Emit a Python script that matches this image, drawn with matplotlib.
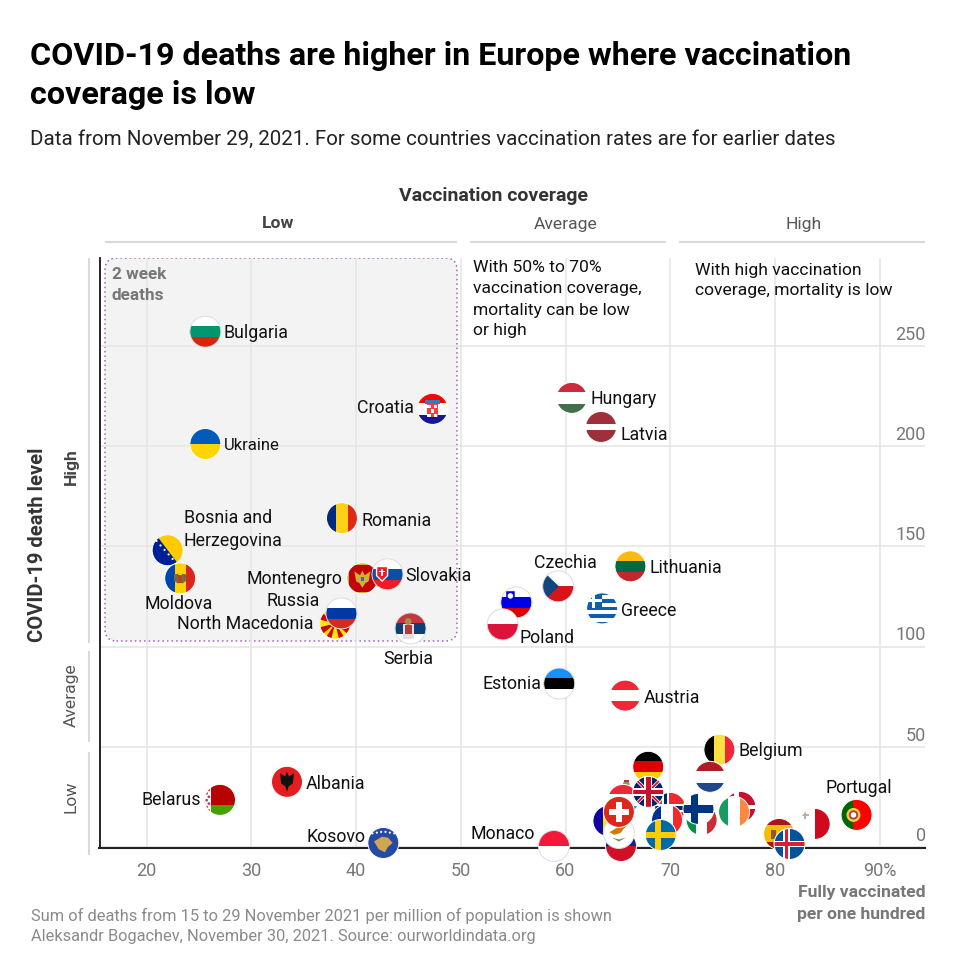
import matplotlib
matplotlib.use('Agg')
import matplotlib.pyplot as plt
from matplotlib.patches import Circle, Rectangle, Polygon, FancyBboxPatch
from matplotlib.lines import Line2D
from matplotlib.transforms import Affine2D, ScaledTranslation

plt.rcParams['font.family'] = ['Roboto', 'DejaVu Sans']

# data, later entries are drawn on top
countries = ['Bulgaria', 'Ukraine', 'Romania', 'Bosnia and\nHerzegovina', 'Moldova', 'Montenegro',
             'Slovakia', 'North Macedonia', 'Russia', 'Serbia', 'Croatia', 'Hungary', 'Latvia',
             'Slovenia', 'Poland', 'Czechia', 'Lithuania', 'Greece', 'Estonia', 'Austria',
             'Belgium', 'Netherlands', 'Denmark', 'Ireland', 'Italy', 'Norway', 'France', 'Finland',
             'Germany', 'San Marino', 'Luxembourg', 'United Kingdom', 'Sweden', 'Andorra',
             'Liechtenstein', 'Cyprus', 'Switzerland', 'Spain', 'Iceland', 'Malta', 'Portugal',
             'Monaco', 'Albania', 'Belarus', 'Kosovo']
vaccinated = [25.6, 25.6, 38.65, 22.0, 23.2, 40.6,
              43.0, 38.0, 38.6, 45.2, 47.3, 60.6, 63.4,
              55.3, 54.0, 59.3, 66.2, 63.5, 59.4, 65.7,
              74.7, 73.8, 76.7, 76.1, 73.0, 70.0, 69.7, 72.7,
              67.9, 65.8, 65.5, 67.9, 69.1, 64.1,
              65.3, 65.1, 65.1, 80.4, 81.4, 83.8, 87.8,
              58.9, 33.4, 27.0, 42.6]
deaths = [257, 201, 164, 148, 134, 134,
          136, 111.5, 116.5, 109, 218.5, 224, 209.5,
          122, 111, 130, 140, 119, 81.5, 75.5,
          48.5, 35, 20, 17.5, 13.5, 19.5, 13.5, 19,
          40, 27, 23.5, 27.5, 6, 13,
          0.5, 7, 17.5, 6.5, 1.5, 11.5, 16,
          0.5, 32.5, 23.5, 2]

x_ticks = [20, 30, 40, 50, 60, 70, 80, 90]
x_tick_labels = ['20', '30', '40', '50', '60', '70', '80', '90%']
y_ticks = [0, 50, 100, 150, 200, 250]

# label offset from the flag centre in pixels: dx, dy (up), alignment
label_offsets = {
    'Bulgaria': (18, 0, 'left'), 'Ukraine': (18.5, -0.5, 'left'), 'Romania': (20, -1, 'left'),
    'Bosnia and\nHerzegovina': (16, 22, 'left'), 'Moldova': (-2, -24, 'center'),
    'Montenegro': (-20, 1, 'right'), 'Slovakia': (18, 0, 'left'), 'Russia': (-22, 14, 'right'),
    'North Macedonia': (-21.7, 1, 'right'), 'Serbia': (-2, -29, 'center'), 'Croatia': (-19, 2, 'right'),
    'Hungary': (19, 0, 'left'), 'Latvia': (19.5, -7, 'left'), 'Czechia': (7, 25, 'center'),
    'Lithuania': (19, 0, 'left'), 'Greece': (19, -1, 'left'), 'Poland': (17, -12, 'left'),
    'Estonia': (-18, 1, 'right'), 'Austria': (19, -1, 'left'), 'Belgium': (19, 0, 'left'),
    'Portugal': (2, 28, 'center'), 'Albania': (19, -1, 'left'), 'Belarus': (-19, 1, 'right'),
    'Kosovo': (-18, 7, 'right'), 'Monaco': (-19, 13, 'right'),
}
# flags with white at the rim get a thin grey outline
ringed = ['Bulgaria', 'Russia', 'Serbia', 'Slovakia', 'Slovenia', 'Poland', 'Czechia', 'Estonia', 'Monaco', 'Cyprus']

W, H = 960, 976
R = 15.5


def fx(x):
    return x / W


def fy(y):
    return 1 - y / H


def h(*cols):
    n = len(cols)
    return [('r', -1.1, 1.1 - 2.2 * (i + 1) / n, 2.2, 2.2 / n, c) for i, c in enumerate(cols)]


def v(*cols):
    n = len(cols)
    return [('r', -1.1 + 2.2 * i / n, -1.1, 2.2 / n, 2.2, c) for i, c in enumerate(cols)]


def cross(cx, cy, w, c):
    return [('r', cx - w / 2, -1.1, w, 2.2, c), ('r', -1.1, cy - w / 2, 2.2, w, c)]


def bg(c):
    return [('r', -1.1, -1.1, 2.2, 2.2, c)]


greece = h(*['#0d5eaf', 'white'] * 4 + ['#0d5eaf'])
greece += [('r', -1.1, 0, 1.1, 1.1, '#0d5eaf')] + [('r', -0.66, 0, 0.2, 1.1, 'white'), ('r', -1.1, 0.42, 1.1, 0.2, 'white')]

uk = bg('#012169')
uk += [('p', [(-1.1, 0.95), (-0.95, 1.1), (1.1, -0.95), (0.95, -1.1)], 'white'),
       ('p', [(1.1, 0.95), (0.95, 1.1), (-1.1, -0.95), (-0.95, -1.1)], 'white')]
uk += [('p', [(-1.1, 1.02), (-1.02, 1.1), (1.1, -1.02), (1.02, -1.1)], '#c8102e'),
       ('p', [(1.1, 1.02), (1.02, 1.1), (-1.1, -1.02), (-1.02, -1.1)], '#c8102e')]
uk += cross(0, 0, 0.55, 'white') + cross(0, 0, 0.3, '#c8102e')

stars = [('c', -0.72 + 0.26 * i, 0.6 - 0.29 * i, 0.07, 'white') for i in range(6)]
rays = [((1.2, 0.3), (1.2, -0.3)), ((-1.2, 0.3), (-1.2, -0.3)), ((0.3, 1.2), (-0.3, 1.2)), ((0.3, -1.2), (-0.3, -1.2)),
        ((1.2, 1.0), (0.8, 1.2)), ((-1.2, 1.0), (-0.8, 1.2)), ((1.2, -1.0), (0.8, -1.2)), ((-1.2, -1.0), (-0.8, -1.2))]
macedonia = bg('#d20000') + [('p', [(0, 0), a, b], '#ffe600') for a, b in rays] + [('c', 0, 0, 0.3, '#d20000'), ('c', 0, 0, 0.22, '#ffe600')]

belarus_band = [('r', -1.1, -1.1, 0.52, 2.2, 'white')]
belarus_band += [('c', -0.86 + 0.14 * (i % 2), -0.9 + 0.22 * i, 0.085, '#c8313e') for i in range(9)]

flags = {
    'Bulgaria': h('white', '#00966e', '#d62612'),
    'Ukraine': h('#005bbb', '#ffd500'),
    'Romania': v('#002b7f', '#fcd116', '#de2a14'),
    'Bosnia and\nHerzegovina': bg('#001f96') + [('p', [(-0.7, 0.95), (-0.7, 1.1), (1.1, 1.1), (1.1, -0.95), (0.72, -0.95)], '#fecb00')] + stars,
    'Moldova': v('#0046ae', '#ffd200', '#d8261c') + [('p', [(-0.4, 0.25), (-0.12, 0.3), (-0.12, -0.35), (-0.4, -0.15)], '#7a6a3a'), ('p', [(0.4, 0.25), (0.12, 0.3), (0.12, -0.35), (0.4, -0.15)], '#7a6a3a'), ('r', -0.12, -0.28, 0.24, 0.5, '#b5402a')],
    'Montenegro': bg('#d3ae3b') + [('r', -0.86, -0.86, 1.72, 1.72, '#c40308'), ('p', [(-0.52, 0.45), (-0.15, 0.2), (0, 0.5), (0.15, 0.2), (0.52, 0.45), (0.4, -0.2), (0.2, -0.3), (0, -0.6), (-0.2, -0.3), (-0.4, -0.2)], '#d3ae3b'), ('r', -0.12, -0.2, 0.24, 0.28, '#3b6ea8')],
    'Slovakia': h('white', '#0b4ea2', '#ee1c25') + [('p', [(-0.75, 0.55), (0.05, 0.55), (0.05, -0.1), (-0.35, -0.5), (-0.75, -0.1)], 'white'), ('p', [(-0.66, 0.46), (-0.04, 0.46), (-0.04, -0.08), (-0.35, -0.38), (-0.66, -0.08)], '#ee1c25'), ('r', -0.4, -0.1, 0.1, 0.46, 'white'), ('r', -0.52, 0.15, 0.34, 0.08, 'white')],
    'North Macedonia': macedonia,
    'Russia': h('white', '#0039a6', '#d52b1e'),
    'Serbia': h('#c6363c', '#0c4076', 'white') + [('r', -0.5, -0.7, 0.7, 1.0, '#e0e0e0'), ('r', -0.38, -0.35, 0.46, 0.55, '#b03a3a'), ('c', -0.15, 0.45, 0.22, '#a8894a')],
    'Croatia': h('#ff0000', 'white', '#171796') + [('r', -0.33, -0.55, 0.66, 0.85, '#f04040'), ('r', -0.33, -0.55, 0.2, 0.2, 'white'), ('r', 0.1, -0.55, 0.2, 0.2, 'white'), ('r', -0.12, -0.25, 0.22, 0.25, 'white'), ('r', -0.33, 0.05, 0.2, 0.2, 'white'), ('r', 0.1, 0.05, 0.2, 0.2, 'white'), ('r', -0.5, 0.3, 1.0, 0.3, '#3a7ab5')],
    'Hungary': h('#cd2a3e', 'white', '#436f4d'),
    'Latvia': h('#9e3039', '#9e3039', 'white', '#9e3039', '#9e3039'),
    'Slovenia': h('white', '#0000e6', '#d90000') + [('p', [(-0.65, 0.72), (-0.1, 0.72), (-0.1, 0.3), (-0.38, 0.05), (-0.65, 0.3)], '#0000e6'), ('c', -0.38, 0.42, 0.18, 'white')],
    'Poland': h('white', '#dc143c'),
    'Czechia': h('white', '#d7141a') + [('p', [(-1.1, 1.1), (0.05, 0), (-1.1, -1.1)], '#11457e')],
    'Lithuania': h('#fdb913', '#006a44', '#c1272d'),
    'Greece': greece,
    'Estonia': h('#1291ff', 'black', 'white'),
    'Austria': h('#ed2939', 'white', '#ed2939'),
    'Belgium': v('black', '#fae042', '#ed2939'),
    'Netherlands': h('#ae1c28', 'white', '#21468b'),
    'Denmark': bg('#c8102e') + cross(-0.25, 0, 0.3, 'white'),
    'Ireland': v('#169b62', 'white', '#ff883e'),
    'Italy': v('#009246', 'white', '#ce2b37'),
    'Norway': bg('#ef2b2d') + cross(-0.3, 0, 0.5, 'white') + cross(-0.3, 0, 0.24, '#002868'),
    'France': v('#002f8f', 'white', '#ef2b2d'),
    'Finland': bg('white') + cross(-0.25, 0, 0.5, '#003580'),
    'Germany': h('black', '#dd0000', '#ffce00'),
    'San Marino': h('white', '#5eb6e4') + [('c', 0, 0.55, 0.22, '#8a9a5a'), ('r', -0.15, 0.7, 0.3, 0.14, '#b03a3a')],
    'Luxembourg': h('#ed2939', 'white', '#00a1de'),
    'United Kingdom': uk,
    'Sweden': bg('#006aa7') + cross(-0.2, 0, 0.38, '#fecc00'),
    'Andorra': v('#10069f', '#fedf00', '#d50032'),
    'Liechtenstein': h('#002b7f', '#ce1126'),
    'Cyprus': bg('white') + [('p', [(-0.6, 0.05), (-0.2, 0.3), (0.15, 0.35), (0.65, 0.6), (0.3, 0.25), (0.1, 0), (-0.3, -0.12)], '#d57800'), ('p', [(-0.45, -0.3), (0, -0.55), (0.45, -0.3), (0, -0.42)], '#6e8a4f')],
    'Switzerland': bg('#da291c') + [('r', -0.2, -0.65, 0.4, 1.3, 'white'), ('r', -0.65, -0.2, 1.3, 0.4, 'white')],
    'Spain': h('#aa151b', '#f1bf00', '#f1bf00', '#aa151b') + [('r', -0.55, -0.3, 0.35, 0.55, '#8a5a2a')],
    'Iceland': bg('#02529c') + cross(-0.2, 0, 0.44, 'white') + cross(-0.2, 0, 0.22, '#dc1e35'),
    'Malta': [('r', -1.1, -1.1, 1.1, 2.2, 'white'), ('r', 0, -1.1, 1.1, 2.2, '#cf0a1e'), ('r', -0.72, 0.32, 0.16, 0.52, '#b8aea0'), ('r', -0.9, 0.5, 0.52, 0.16, '#b8aea0')],
    'Portugal': [('r', -1.1, -1.1, 0.9, 2.2, '#006600'), ('r', -0.2, -1.1, 1.3, 2.2, '#ff0000'), ('c', -0.2, 0, 0.45, '#e8d44a'), ('c', -0.2, 0, 0.3, '#c8352a'), ('c', -0.2, 0, 0.18, 'white')],
    'Monaco': h('#f4183a', 'white'),
    'Albania': bg('#e41e20') + [('p', [(-0.45, 0.55), (-0.12, 0.35), (0, 0.65), (0.12, 0.35), (0.45, 0.55), (0.38, -0.1), (0.1, -0.3), (0, -0.65), (-0.1, -0.3), (-0.38, -0.1)], '#111111')],
    'Belarus': [('r', -1.1, -0.33, 2.2, 1.43, '#b80000'), ('r', -1.1, -1.1, 2.2, 0.77, '#45a000')] + belarus_band,
    'Kosovo': bg('#244aa5') + [('p', [(-0.6, 0.1), (-0.1, 0.4), (0.3, 0.35), (0.6, 0.0), (0.3, -0.25), (0.1, -0.6), (-0.3, -0.4)], '#d0a650')] + [('c', -0.7 + 0.28 * i, 0.62 + 0.12 * (1 - abs(i - 2.5) / 2.5), 0.07, 'white') for i in range(6)],
}


def draw_flag(ax, name, x, y):
    t = Affine2D().scale(R) + ScaledTranslation(x, y, ax.transData)
    clip = Circle((0, 0), 1, transform=t)
    for s in flags[name]:
        if s[0] == 'r':
            p = Rectangle((s[1], s[2]), s[3], s[4], fc=s[5], ec='none')
        elif s[0] == 'p':
            p = Polygon(s[1], closed=True, fc=s[2], ec='none')
        else:
            p = Circle((s[1], s[2]), s[3], fc=s[4], ec='none')
        p.set_transform(t)
        p.set_clip_path(clip)
        p.set_zorder(5)
        ax.add_patch(p)
    edge = '#dddddd' if name in ringed else 'white'
    ring = Circle((0, 0), 1, transform=t, fc='none', ec=edge, lw=0.7, zorder=5, clip_on=False)
    ax.add_patch(ring)


fig = plt.figure(figsize=(W / 100, H / 100), dpi=100)
ax_left, ax_right, ax_top, ax_bottom = 99.5, 925, 258, 848
ax = fig.add_axes([fx(ax_left), fy(ax_bottom), (ax_right - ax_left) / W, (ax_bottom - ax_top) / H])
px_x = 10.47
px_y = 2.005
ax.set_xlim(20 + (ax_left - 146.7) / px_x, 20 + (ax_right - 146.7) / px_x)
ax.set_ylim((847 - ax_bottom) / px_y, (847 - ax_top) / px_y)

for s in ['top', 'right']:
    ax.spines[s].set_visible(False)
ax.spines['left'].set_color('black')
ax.spines['left'].set_linewidth(1.2)
ax.spines['bottom'].set_color('#222222')
ax.spines['bottom'].set_linewidth(1.5)

ax.set_axisbelow(True)
ax.grid(True, color='#e6e6e6', lw=1.2, zorder=1)
ax.set_xticks(x_ticks)
ax.set_xticklabels(x_tick_labels)
ax.set_yticks(y_ticks)
ax.yaxis.tick_right()
ax.tick_params(axis='x', length=0, pad=10, labelsize=13, labelcolor='#777777')
ax.tick_params(axis='y', length=0, pad=0, labelsize=13, labelcolor='#777777', direction='in')
for lab in ax.get_yticklabels():
    lab.set_ha('right')
    lab.set_va('bottom')
    lab.set_transform(lab.get_transform() + Affine2D().translate(1, 2))

# the highlighted low coverage / high mortality box
bx0 = 20 + (105 - 146.7) / px_x
bx1 = 20 + (457 - 146.7) / px_x
by0 = (847 - 641) / px_y
by1 = (847 - 258) / px_y
box = FancyBboxPatch((bx0, by0), bx1 - bx0, by1 - by0, boxstyle='round,pad=0,rounding_size=1.1',
                     mutation_aspect=px_x / px_y, fc='#f3f3f3', ec='#a55fc4', lw=1.1, ls=(0, (1, 2)), zorder=0.5)
ax.add_patch(box)

for name, x, y in zip(countries, vaccinated, deaths):
    draw_flag(ax, name, x, y)
    if name in label_offsets:
        dx, dy, ha = label_offsets[name]
        ax.annotate(name, (x, y), xytext=(dx, dy - 1.5), textcoords='offset pixels', ha=ha, va='center',
                    fontsize=12 if name == 'Ukraine' else 12.8, color='#111111', zorder=6, linespacing=1.37,
                    annotation_clip=False)


def txt(x, y, s, **kw):
    kw.setdefault('va', 'center')
    return fig.text(fx(x), fy(y), s, **kw)


# headings
txt(30, 56, 'COVID-19 deaths are higher in Europe where vaccination', fontsize=23.2, fontweight='bold', color='black')
txt(30, 95, 'coverage is low', fontsize=23.2, fontweight='bold', color='black')
txt(30, 139.5, 'Data from November 29, 2021. For some countries vaccination rates are for earlier dates', fontsize=14.8, color='#222222')

txt(494, 196, 'Vaccination coverage', fontsize=14, fontweight='bold', color='#333333', ha='center')
txt(278, 224, 'Low', fontsize=12.6, fontweight='bold', color='#444444', ha='center')
txt(565.5, 224, 'Average', fontsize=12.6, color='#555555', ha='center')
txt(804, 224, 'High', fontsize=12.6, color='#555555', ha='center')

txt(38, 545, 'COVID-19 death level', fontsize=14.5, fontweight='bold', color='#333333', ha='center', rotation=90)
txt(71, 467, 'High', fontsize=12.6, fontweight='bold', color='#444444', ha='center', rotation=90)
txt(71, 695, 'Average', fontsize=12.6, color='#555555', ha='center', rotation=90)
txt(71, 797, 'Low', fontsize=12.6, color='#555555', ha='center', rotation=90)

# bands
for x0, x1 in [(104.5, 457), (470, 666), (679, 925)]:
    fig.add_artist(Line2D([fx(x0), fx(x1)], [fy(241.5)] * 2, color='#d9d9d9', lw=1.5, solid_capstyle='butt'))
for y0, y1 in [(258, 643), (651, 742), (752, 855)]:
    fig.add_artist(Line2D([fx(89)] * 2, [fy(y0), fy(y1)], color='#d9d9d9', lw=1.5, solid_capstyle='butt'))

# notes
for yy, line in zip([275, 296], ['2 week', 'deaths']):
    txt(112, yy, line, fontsize=12.3, fontweight='bold', color='#777777')
for yy, line in zip([268, 289, 310, 331], ['With 50% to 70%', 'vaccination coverage,', 'mortality can be low', 'or high']):
    txt(473, yy, line, fontsize=12.6, color='#111111')
for yy, line in zip([270, 291], ['With high vaccination', 'coverage, mortality is low']):
    txt(695, yy, line, fontsize=12.6, color='#111111')

for yy, line in zip([893, 914], ['Fully vaccinated', 'per one hundred']):
    txt(925, yy, line, fontsize=12.6, fontweight='bold', color='#777777', ha='right')
for yy, line in zip([916, 936], ['Sum of deaths from 15 to 29 November 2021 per million of population is shown',
                                 'Aleksandr Bogachev, November 30, 2021. Source: ourworldindata.org']):
    txt(31, yy, line, fontsize=11.75, color='#8a8a8a')

fig.savefig('out.png', dpi=100)
